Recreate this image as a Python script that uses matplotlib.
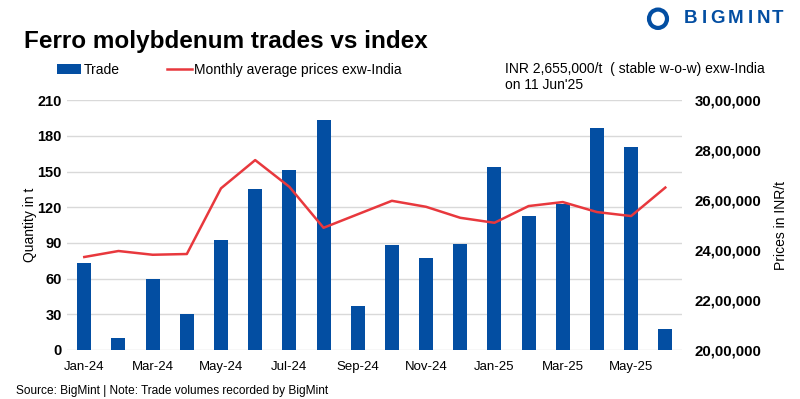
import matplotlib.pyplot as plt
from matplotlib.ticker import FuncFormatter
from matplotlib.patches import Ellipse

plt.rcParams['font.family'] = ['Liberation Sans', 'DejaVu Sans']

# -------------------------
# Data
# -------------------------
months = ["Jan-24", "Feb-24", "Mar-24", "Apr-24", "May-24", "Jun-24", "Jul-24", "Aug-24",
          "Sep-24", "Oct-24", "Nov-24", "Dec-24", "Jan-25", "Feb-25", "Mar-25", "Apr-25",
          "May-25", "Jun-25"]
trade = [73, 10, 60, 30, 92, 135, 151, 193, 37, 88, 77, 89, 154, 113, 123, 187, 171, 18]
price = [2372000, 2396000, 2381000, 2384000, 2647000, 2760000, 2653000, 2489000, 2543000,
         2597000, 2573000, 2529000, 2509000, 2576000, 2592000, 2552000, 2536000, 2650000]

bar_color = "#034EA2"
line_color = "#E8383D"


def indian(v, pos=None):
    # Indian digit grouping: 20,00,000
    s = str(int(round(v)))
    if len(s) <= 3:
        return s
    last3 = s[-3:]
    rest = s[:-3]
    parts = []
    while len(rest) > 2:
        parts.insert(0, rest[-2:])
        rest = rest[:-2]
    if rest:
        parts.insert(0, rest)
    return ",".join(parts) + "," + last3


fig = plt.figure(figsize=(8, 3.99), dpi=100)
ax1 = fig.add_axes([0.084, 0.123, 0.769, 0.626])

x = list(range(len(months)))
ax1.bar(x, trade, width=0.41, color=bar_color, label="Trade", zorder=3)
ax1.set_xlim(-0.5, len(months) - 0.5)
ax1.set_ylim(0, 210)
ax1.set_yticks(range(0, 211, 30))
ax1.set_xticks(x[::2])
ax1.set_xticklabels(months[::2], fontsize=9.5)
ax1.grid(axis="y", color="#D9D9D9", linewidth=1, zorder=0)
ax1.set_ylabel("Quantity in t", fontsize=10, labelpad=0)
ax1.tick_params(axis="y", length=0, pad=4, labelsize=10.5)
ax1.tick_params(axis="x", length=0, pad=8)
for lab in ax1.get_yticklabels():
    lab.set_fontweight("bold")
for s in ax1.spines.values():
    s.set_visible(False)

# price on right axis
ax2 = ax1.twinx()
ax2.plot(x, price, color=line_color, linewidth=1.8, label="Monthly average prices exw-India", zorder=4)
ax2.set_ylim(2000000, 3000000)
ax2.set_yticks(range(2000000, 3000001, 200000))
ax2.yaxis.set_major_formatter(FuncFormatter(indian))
ax2.set_ylabel("Prices in INR/t", fontsize=10, labelpad=9)
ax2.tick_params(axis="y", length=0, pad=9, labelsize=10.8)
for lab in ax2.get_yticklabels():
    lab.set_fontweight("bold")
for s in ax2.spines.values():
    s.set_visible(False)

# legend
h1, l1 = ax1.get_legend_handles_labels()
h2, l2 = ax2.get_legend_handles_labels()
fig.legend(h1 + h2, l1 + l2, loc="center left", bbox_to_anchor=(0.059, 0.825), ncol=2,
           frameon=False, fontsize=10, handlelength=1.75, handletextpad=0.2,
           columnspacing=3.4, borderpad=0.2)

fig.text(0.631, 0.807, "INR 2,655,000/t  ( stable w-o-w) exw-India\non 11 Jun'25",
         fontsize=10, va="center", ha="left", linespacing=1.15)

fig.text(0.03, 0.897, "Ferro molybdenum trades vs index", fontsize=17.5, fontweight="bold",
         va="center", ha="left")

fig.text(0.02, 0.02, "Source: BigMint | Note: Trade volumes recorded by BigMint", fontsize=8.6,
         va="center", ha="left")

# logo
fig.patches.append(Ellipse((0.8225, 0.953), 0.0225, 0.046, transform=fig.transFigure,
                           facecolor="none", edgecolor=bar_color, linewidth=3))
for letter, lx in zip("BIGMINT", [0.855, 0.8775, 0.8875, 0.91, 0.935, 0.946, 0.965]):
    fig.text(lx, 0.953, letter, fontsize=13.5, fontweight="bold", color=bar_color,
             va="center", ha="left")

plt.savefig("out.png", dpi=100)
